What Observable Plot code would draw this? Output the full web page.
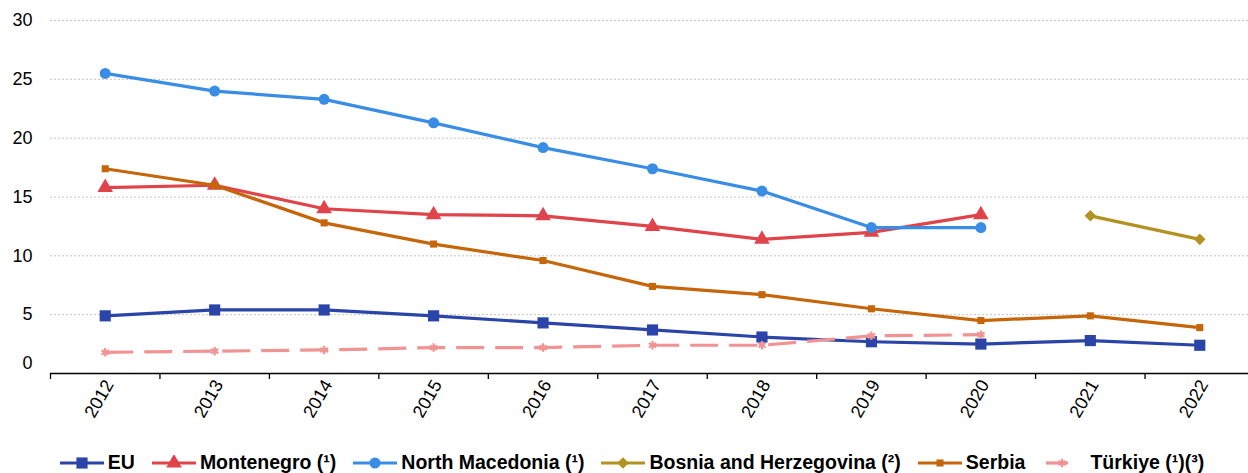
<!DOCTYPE html>
<html>
<head>
<meta charset="utf-8">
<script src="https://cdn.jsdelivr.net/npm/d3@7"></script>
<script src="https://cdn.jsdelivr.net/npm/@observablehq/plot@0.6"></script>
<style>
  html, body { margin: 0; padding: 0; background: #fff; overflow: hidden; }
  body { font-family: "Liberation Sans", Arial, sans-serif; width: 1248px; }
  #legend {
    display: flex; justify-content: center; align-items: center;
    height: 33px; padding-top: 6px; padding-left: 16px; font-weight: bold; font-size: 19.5px; color: #000;
    gap: 17px;
  }
  .item { display: flex; align-items: center; gap: 4px; white-space: nowrap; }
  .item svg { display: block; }
</style>
</head>
<body>
<div id="chart"></div>
<div id="legend"></div>
<script>
// Long-term unemployment rate (%), EU and enlargement countries
const years = [2012, 2013, 2014, 2015, 2016, 2017, 2018, 2019, 2020, 2021, 2022];
const euValues             = [4.9, 5.4, 5.4, 4.9, 4.3, 3.7, 3.1, 2.7, 2.5, 2.8, 2.4];
const montenegroValues     = [15.8, 16.0, 14.0, 13.5, 13.4, 12.5, 11.4, 12.0, 13.5, null, null];
const northMacedoniaValues = [25.5, 24.0, 23.3, 21.3, 19.2, 17.4, 15.5, 12.4, 12.4, null, null];
const bosniaValues         = [null, null, null, null, null, null, null, null, null, 13.4, 11.4];
const serbiaValues         = [17.4, 16.0, 12.8, 11.0, 9.6, 7.4, 6.7, 5.5, 4.5, 4.9, 3.9];
const turkiyeValues        = [1.8, 1.9, 2.0, 2.2, 2.2, 2.4, 2.4, 3.2, 3.3, null, null];
const seriesNames = ["EU", "Montenegro (¹)", "North Macedonia (¹)", "Bosnia and Herzegovina (²)", "Serbia", "Türkiye (¹)(³)"];
const yTicks = [0, 5, 10, 15, 20, 25, 30];

const seriesValues = [euValues, montenegroValues, northMacedoniaValues, bosniaValues, serbiaValues, turkiyeValues];

// Per-series drawing style, in drawing order
const styles = [
  {color: "#2a44a8", symbol: "square",   r: 6.3, dash: null},
  {color: "#e0434a", symbol: "triangle", r: 5.8, dash: null},
  {color: "#3a8de4", symbol: "circle",   r: 5.5, dash: null},
  {color: "#b29322", symbol: "diamond2", r: 5.2, dash: null},
  {color: "#c5660a", symbol: "square",   r: 4,   dash: null},
  {color: "#f19393", symbol: "asterisk", r: 4,   dash: "28,11"}
];

const series = seriesNames.map((name, i) => ({
  name,
  style: styles[i],
  rows: years.map((year, j) => ({series: name, year, value: seriesValues[i][j]}))
             .filter(d => d.value != null)
}));

const seriesMarks = series.flatMap(s => [
  Plot.line(s.rows, {
    x: "year", y: "value",
    stroke: s.style.color, strokeWidth: 3.2,
    strokeDasharray: s.style.dash ?? undefined,
    strokeLinejoin: "round", strokeLinecap: s.style.dash ? "butt" : "round"
  }),
  s.style.symbol === "asterisk"
    ? Plot.dot(s.rows, {x: "year", y: "value", symbol: "asterisk", r: s.style.r, stroke: s.style.color, strokeWidth: 2.2})
    : Plot.dot(s.rows, {x: "year", y: "value", symbol: s.style.symbol, r: s.style.r, fill: s.style.color, stroke: "none"})
]);

const boundaries = d3.range(years.length + 1).map(i => years[0] - 0.5 + i);

const chart = Plot.plot({
  width: 1248,
  height: 440,
  marginLeft: 50,
  marginRight: 0,
  marginTop: 20,
  marginBottom: 67,
  style: {fontFamily: "Liberation Sans, Arial, sans-serif", background: "#fff", color: "#000"},
  x: {type: "linear", domain: [years[0] - 0.5, years[years.length - 1] + 0.5], range: [50, 1254]},
  y: {domain: [0, 30], range: [373, 20]},
  marks: [
    Plot.ruleY(yTicks.filter(v => v > 0), {stroke: "#c4c4c4", strokeWidth: 1, strokeDasharray: "2,2"}),
    Plot.axisY(yTicks.filter(v => v > 0), {tickSize: 0, tickPadding: 18, fontSize: 18, label: null, fill: "#000"}),
    Plot.axisY([0], {tickSize: 0, tickPadding: 18, fontSize: 18, label: null, dy: -10, fill: "#000"}),
    Plot.axisX(boundaries, {tickSize: 6, tickFormat: () => "", label: null, stroke: "#000", strokeWidth: 1.3}),
    Plot.axisX(years, {tickSize: 0, tickRotate: -60, tickPadding: 8, fontSize: 18, label: null, tickFormat: d => String(d), fill: "#000", dx: 4}),
    ...seriesMarks,
    Plot.ruleY([0], {stroke: "#000", strokeWidth: 1.5})
  ]
});
document.getElementById("chart").appendChild(chart);

// Legend: line swatch with centred marker, then the series name
const legend = d3.select("#legend");
series.forEach(s => {
  const item = legend.append("div").attr("class", "item");
  const sw = item.append("svg").attr("width", 44).attr("height", 16);
  sw.append("line")
    .attr("x1", 0).attr("x2", 44).attr("y1", 8).attr("y2", 8)
    .attr("stroke", s.style.color).attr("stroke-width", 3.2)
    .attr("stroke-dasharray", s.style.dash ? "22,30" : null)
    .attr("stroke-dashoffset", s.style.dash ? -4 : null);
  const symbolMap = {square: d3.symbolSquare, triangle: d3.symbolTriangle, circle: d3.symbolCircle,
                     diamond2: d3.symbolDiamond2, asterisk: d3.symbolAsterisk};
  const size = Math.PI * s.style.r * s.style.r;
  const path = sw.append("path")
    .attr("transform", `translate(${s.style.dash ? 20 : 22},8)`)
    .attr("d", d3.symbol(symbolMap[s.style.symbol], size)());
  if (s.style.symbol === "asterisk") path.attr("fill", "none").attr("stroke", s.style.color).attr("stroke-width", 2.2);
  else path.attr("fill", s.style.color);
  item.append("span").text(s.name);
});
</script>
</body>
</html>
